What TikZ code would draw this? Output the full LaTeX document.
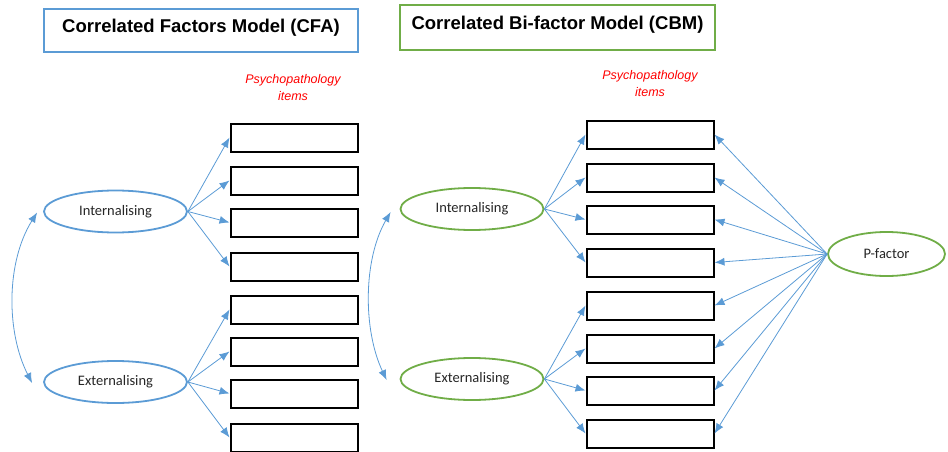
\documentclass[tikz,border=0pt]{standalone}
\usepackage{fontspec}
\setmainfont{Liberation Sans}
\newfontfamily\calib{Carlito}
\usetikzlibrary{shapes.geometric,arrows.meta}
\definecolor{blueline}{HTML}{5B9BD5}
\definecolor{greenline}{HTML}{70AD47}
\definecolor{redtext}{HTML}{FF0000}
\begin{document}
\begin{tikzpicture}[x=1pt,y=-1pt,
  item/.style={draw=black,line width=2pt,minimum width=127pt,minimum height=28pt,inner sep=0pt},
  latent/.style={ellipse,line width=1.8pt,minimum width=143pt,minimum height=42pt,inner sep=0pt,font=\calib\fontsize{14.5}{16}\selectfont,text=black!85},
  titlebox/.style={draw,line width=2pt,inner sep=0pt,font=\bfseries\fontsize{18.5}{22}\selectfont},
  redlabel/.style={text=redtext,align=center,font=\itshape\fontsize{12.5}{17}\selectfont},
  load/.style={draw=blueline,line width=0.8pt,-{Latex[length=10pt,width=8pt]}},
  corr/.style={draw=blueline,line width=0.8pt,{Latex[length=10pt,width=8pt]}-{Latex[length=10pt,width=8pt]}}]
\useasboundingbox (0,0) rectangle (948,452);
% titles
\node[titlebox,draw=blueline,minimum width=314pt,text height=23.6pt,text depth=19.4pt] (t1) at (201,30.5) {Correlated Factors Model (CFA)};
\node[titlebox,draw=greenline,minimum width=315pt,text height=24.6pt,text depth=20.4pt] (t2) at (557.5,27.5) {Correlated Bi-factor Model (CBM)};
\node[redlabel] (p1) at (293,87.5) {Psychopathology\\items};
\node[redlabel] (p2) at (650,83.5) {Psychopathology\\items};
% left model
\node[latent,draw=blueline] (li) at (115.5,211.5) {Internalising};
\node[latent,draw=blueline] (le) at (115.5,382) {Externalising};
\foreach \i/\y in {1/137.5,2/180.5,3/222.5,4/266.5,5/309.5,6/351.5,7/393.5,8/437.5}
  \node[item] (lb\i) at (294,\y) {};
\foreach \i in {1,2,3,4} \draw[load] (li.east) -- (lb\i.west);
\foreach \i in {5,6,7,8} \draw[load] (le.east) -- (lb\i.west);
\draw[corr] ([xshift=-6pt,yshift=-1pt]li.west) .. controls (6,262) and (6,332) .. ([xshift=-11pt,yshift=-1pt]le.west);
% right model
\node[latent,draw=greenline] (ri) at (472,209) {Internalising};
\node[latent,draw=greenline] (re) at (472,379) {Externalising};
\node[latent,draw=greenline,minimum width=117pt,minimum height=44pt] (pf) at (886.5,254) {P-factor};
\foreach \i/\y in {1/134.5,2/177.5,3/219.5,4/262.5,5/305.5,6/348.5,7/390.5,8/433.5}
  \node[item] (rb\i) at (650,\y) {};
\foreach \i in {1,2,3,4} \draw[load] (ri.east) -- (rb\i.west);
\foreach \i in {5,6,7,8} \draw[load] (re.east) -- (rb\i.west);
\foreach \i in {1,...,8} \draw[load] (pf.west) -- (rb\i.east);
\draw[corr] ([xshift=-9pt,yshift=-3pt]ri.west) .. controls (363,260) and (363,330) .. ([xshift=-13pt,yshift=-1pt]re.west);
\end{tikzpicture}
\end{document}
